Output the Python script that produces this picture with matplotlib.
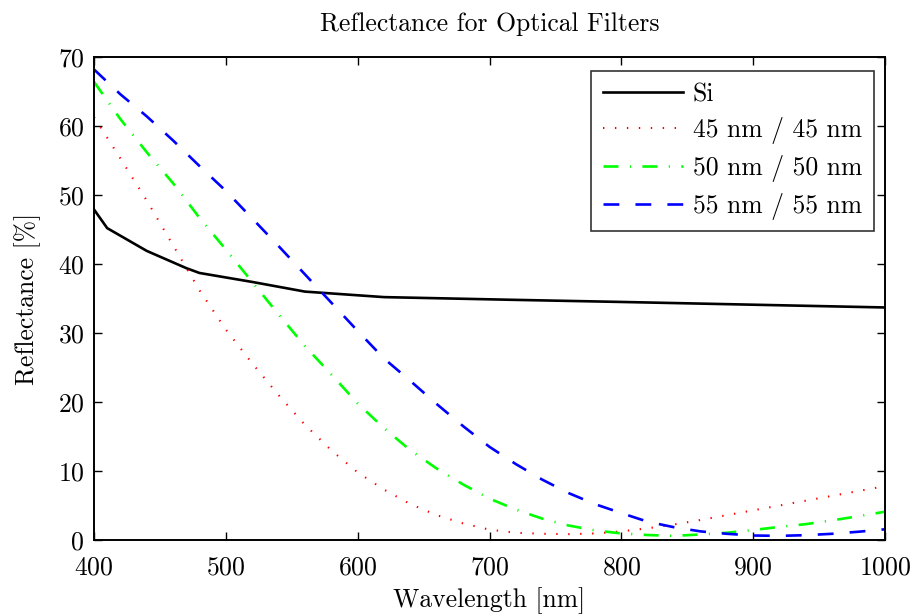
import matplotlib
matplotlib.use("Agg")
import matplotlib.pyplot as plt

plt.rcParams['font.family'] = ['cmr10', 'DejaVu Serif']
plt.rcParams['axes.formatter.use_mathtext'] = True
plt.rcParams['mathtext.fontset'] = 'cm'
plt.rcParams['lines.scale_dashes'] = False

# Bare silicon reflectance (%)
si_wl = [400, 410, 440, 470, 480, 520, 560, 620, 720, 800, 900, 1000]
si_r = [47.9, 45.2, 41.9, 39.4, 38.7, 37.4, 36.0, 35.2, 34.8, 34.5, 34.1, 33.7]

# Coated filters, sampled every 20 nm
wl = [400, 420, 440, 460, 480, 500, 520, 540, 560, 580, 600, 620, 640, 660,
      680, 700, 720, 740, 760, 780, 800, 820, 840, 860, 880, 900, 920, 940,
      960, 980, 1000]
r45 = [61.3, 55.3, 49.2, 42.7, 36.2, 30.5, 25.6, 21.0, 16.7, 13.0, 9.8, 7.3,
       5.2, 3.6, 2.4, 1.5, 1.05, 0.9, 0.85, 0.95, 1.25, 1.7, 2.25, 2.9, 3.6,
       4.3, 5.0, 5.7, 6.4, 7.1, 7.8]
r50 = [66.4, 61.0, 56.2, 51.7, 46.7, 42.1, 37.4, 32.7, 28.1, 24.0, 19.8, 16.2,
       13.0, 10.35, 8.05, 6.0, 4.4, 3.1, 2.1, 1.4, 0.95, 0.72, 0.6, 0.8, 1.05,
       1.45, 1.9, 2.3, 2.85, 3.45, 4.1]
r55 = [68.2, 64.6, 61.4, 57.9, 54.2, 50.6, 46.6, 42.6, 38.5, 34.4, 30.3, 26.3,
       23.05, 19.7, 16.5, 13.5, 11.0, 8.75, 6.8, 5.2, 3.9, 2.65, 1.85, 1.25,
       0.9, 0.65, 0.6, 0.7, 0.9, 1.2, 1.55]

labels = ['Si', '45 nm / 45 nm', '50 nm / 50 nm', '55 nm / 55 nm']
xticks = [400, 500, 600, 700, 800, 900, 1000]
yticks = [0, 10, 20, 30, 40, 50, 60, 70]

fig = plt.figure(figsize=(9.15, 6.15), dpi=100)
ax = fig.add_axes([94 / 915, 1 - 540 / 615, (885 - 94) / 915, (540 - 57) / 615])

lw = 1.9
ax.plot(si_wl, si_r, color='black', lw=lw, label=labels[0])
ax.plot(wl, r45, color=(1, 0, 0), lw=1.5, dashes=(1.0, 7.6), label=labels[1])
ax.plot(wl, r50, color=(0, 1, 0), lw=lw, dashes=(10.8, 8.2, 0.8, 8.2),
        label=labels[2])
ax.plot(wl, r55, color=(0, 0, 1), lw=lw, dashes=(11.4, 11.6), label=labels[3])

ax.set_xlim(400, 1000)
ax.set_ylim(0, 70)
ax.set_xticks(xticks)
ax.set_yticks(yticks)
ax.tick_params(direction='in', length=6, width=1.0, top=True, right=True,
               labelsize=18.5)
ax.tick_params(axis='x', pad=11)
ax.tick_params(axis='y', pad=7)
for s in ax.spines.values():
    s.set_linewidth(1.4)

ax.set_title('Reflectance for Optical Filters', fontsize=18.5, pad=19)
ax.set_xlabel('Wavelength [nm]', fontsize=18.5, labelpad=6)
ax.set_ylabel('Reflectance [%]', fontsize=18.5, labelpad=12)

leg = ax.legend(loc='upper right', bbox_to_anchor=(0.986, 0.971), fontsize=18.5,
                frameon=True, fancybox=False, handlelength=3.1,
                handletextpad=0.4, borderpad=0.45, labelspacing=0.42,
                borderaxespad=0.0)
leg.get_frame().set_edgecolor('black')
leg.get_frame().set_linewidth(1.2)

fig.savefig('out.png', dpi=100)
